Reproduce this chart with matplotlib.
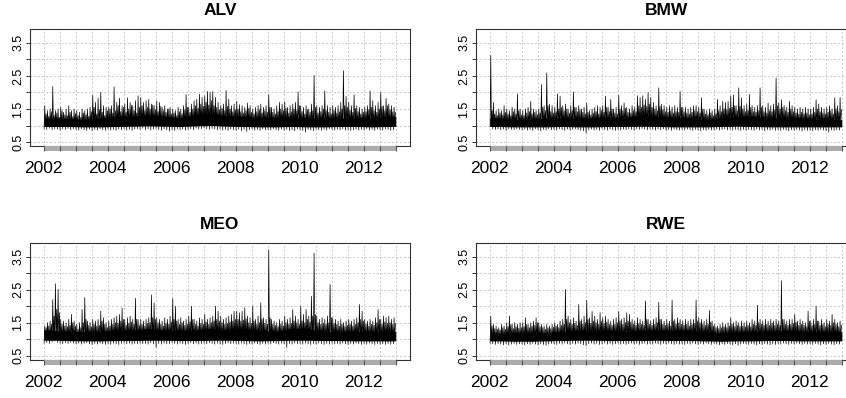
import numpy as np
import matplotlib
matplotlib.use("Agg")
import matplotlib.pyplot as plt
from matplotlib.patches import Rectangle
from matplotlib.transforms import blended_transform_factory

plt.rcParams['font.family'] = ['Liberation Sans', 'DejaVu Sans']

# values, Jan 2002 .. Dec 2012 (one row per year)
# peaks = highest value of the month, mids = a second high, lows = lowest value
alv_peaks = [1.6, 1.45, 1.5, 2.18, 1.45, 1.5, 1.55, 1.4, 1.5, 1.6, 1.45, 1.5,
             1.45, 1.4, 1.5, 1.45, 1.5, 1.55, 1.91, 1.7, 1.83, 2.0, 1.6, 1.55,
             1.55, 1.6, 2.17, 1.7, 1.83, 1.6, 1.65, 1.84, 1.7, 1.6, 1.75, 1.9,
             1.85, 1.7, 1.75, 1.79, 1.65, 1.6, 1.75, 1.7, 1.55, 1.6, 1.5, 1.55,
             1.5, 1.45, 1.55, 1.5, 1.6, 1.93, 1.55, 1.65, 1.75, 1.8, 1.95, 1.85,
             1.9, 2.03, 2.0, 2.03, 1.85, 1.7, 1.6, 1.65, 2.06, 1.8, 1.6, 1.65,
             1.73, 1.63, 1.6, 1.55, 1.68, 1.6, 1.5, 1.55, 1.6, 1.65, 1.55, 1.6,
             1.93, 1.55, 1.5, 1.6, 1.7, 1.65, 1.72, 1.55, 1.6, 1.65, 1.7, 2.02,
             1.6, 1.55, 1.6, 1.5, 1.65, 2.52, 1.6, 1.55, 1.6, 2.05, 1.6, 1.55,
             1.6, 1.55, 1.6, 1.7, 2.66, 1.88, 1.7, 1.6, 1.93, 1.6, 1.55, 1.5,
             1.55, 1.6, 2.05, 1.75, 1.6, 1.7, 2.0, 1.6, 1.82, 1.65, 1.6, 1.55]
alv_mids = [1.35, 1.28, 1.42, 1.3, 1.38, 1.25, 1.45, 1.32, 1.3, 1.4, 1.27, 1.36,
            1.3, 1.25, 1.38, 1.33, 1.28, 1.42, 1.55, 1.35, 1.48, 1.4, 1.3, 1.45,
            1.5, 1.38, 1.45, 1.6, 1.42, 1.55, 1.4, 1.5, 1.62, 1.45, 1.38, 1.55,
            1.6, 1.45, 1.55, 1.5, 1.62, 1.48, 1.42, 1.58, 1.45, 1.4, 1.5, 1.35,
            1.38, 1.3, 1.42, 1.35, 1.48, 1.55, 1.4, 1.5, 1.6, 1.52, 1.65, 1.58,
            1.7, 1.62, 1.75, 1.6, 1.55, 1.48, 1.52, 1.45, 1.58, 1.5, 1.42, 1.48,
            1.5, 1.42, 1.38, 1.45, 1.52, 1.4, 1.35, 1.42, 1.48, 1.38, 1.45, 1.4,
            1.55, 1.4, 1.35, 1.42, 1.5, 1.45, 1.52, 1.38, 1.42, 1.5, 1.45, 1.6,
            1.42, 1.35, 1.48, 1.4, 1.45, 1.55, 1.38, 1.42, 1.5, 1.45, 1.4, 1.35,
            1.45, 1.38, 1.42, 1.5, 1.6, 1.55, 1.45, 1.4, 1.52, 1.42, 1.35, 1.4,
            1.42, 1.48, 1.55, 1.45, 1.4, 1.5, 1.58, 1.45, 1.6, 1.48, 1.42, 1.4]
alv_lows = [0.9, 0.88, 0.92, 0.87, 0.9, 0.89, 0.86, 0.9, 0.88, 0.91, 0.87, 0.9,
            0.88, 0.86, 0.9, 0.87, 0.85, 0.89, 0.84, 0.88, 0.86, 0.9, 0.87, 0.85,
            0.9, 0.86, 0.88, 0.85, 0.89, 0.87, 0.9, 0.86, 0.88, 0.85, 0.89, 0.9,
            0.88, 0.92, 0.87, 0.9, 0.86, 0.89, 0.91, 0.88, 0.85, 0.9, 0.87, 0.83,
            0.88, 0.85, 0.9, 0.87, 0.89, 0.86, 0.88, 0.9, 0.87, 0.92, 0.89, 0.9,
            0.93, 0.9, 0.88, 0.91, 0.89, 0.87, 0.9, 0.86, 0.88, 0.85, 0.89, 0.87,
            0.86, 0.89, 0.84, 0.88, 0.82, 0.87, 0.9, 0.86, 0.88, 0.85, 0.89, 0.87,
            0.88, 0.86, 0.9, 0.87, 0.85, 0.89, 0.86, 0.88, 0.85, 0.87, 0.84, 0.9,
            0.87, 0.85, 0.8, 0.88, 0.86, 0.84, 0.89, 0.87, 0.85, 0.88, 0.86, 0.9,
            0.88, 0.86, 0.89, 0.87, 0.9, 0.86, 0.88, 0.85, 0.87, 0.89, 0.86, 0.88,
            0.87, 0.9, 0.86, 0.88, 0.85, 0.89, 0.87, 0.86, 0.9, 0.88, 0.85, 0.87]

bmw_peaks = [3.12, 1.7, 1.45, 1.5, 1.45, 1.6, 1.5, 1.45, 1.55, 1.5, 1.96, 1.5,
             1.45, 1.5, 1.55, 1.73, 1.5, 1.45, 1.5, 2.24, 1.6, 2.59, 1.65, 1.6,
             1.55, 1.96, 1.89, 1.6, 1.65, 1.5, 1.6, 2.02, 1.55, 1.6, 1.5, 1.55,
             1.68, 1.45, 1.5, 1.55, 1.6, 1.55, 1.6, 1.89, 1.55, 1.79, 1.5, 1.55,
             1.92, 1.6, 1.68, 1.55, 1.5, 1.6, 1.55, 1.9, 1.85, 1.9, 1.8, 2.0,
             1.85, 1.7, 1.6, 2.14, 1.65, 1.6, 1.55, 1.6, 1.55, 1.6, 1.55, 2.03,
             1.55, 1.55, 1.5, 1.55, 1.6, 1.6, 1.55, 1.84, 1.5, 1.45, 1.5, 1.45,
             1.5, 1.79, 1.6, 1.73, 1.7, 1.73, 1.89, 1.92, 1.6, 2.14, 1.84, 1.6,
             1.65, 1.94, 1.6, 1.55, 1.6, 2.14, 1.6, 1.55, 1.68, 1.6, 1.65, 2.44,
             1.68, 1.78, 1.6, 1.55, 1.73, 1.6, 1.55, 1.5, 1.55, 1.5, 1.55, 1.5,
             1.5, 1.55, 1.78, 1.65, 1.55, 1.5, 1.55, 1.6, 1.5, 1.84, 1.6, 1.85]
bmw_mids = [1.45, 1.35, 1.3, 1.38, 1.32, 1.4, 1.35, 1.3, 1.42, 1.35, 1.45, 1.32,
            1.3, 1.38, 1.42, 1.35, 1.4, 1.33, 1.38, 1.55, 1.45, 1.6, 1.42, 1.38,
            1.42, 1.5, 1.55, 1.45, 1.5, 1.38, 1.45, 1.55, 1.42, 1.48, 1.4, 1.35,
            1.4, 1.32, 1.38, 1.42, 1.35, 1.45, 1.4, 1.55, 1.42, 1.5, 1.38, 1.35,
            1.5, 1.45, 1.52, 1.4, 1.38, 1.45, 1.42, 1.6, 1.55, 1.62, 1.58, 1.65,
            1.55, 1.5, 1.45, 1.58, 1.48, 1.42, 1.4, 1.45, 1.38, 1.42, 1.4, 1.55,
            1.42, 1.38, 1.35, 1.4, 1.45, 1.42, 1.38, 1.5, 1.35, 1.32, 1.38, 1.3,
            1.35, 1.45, 1.42, 1.5, 1.48, 1.52, 1.55, 1.6, 1.45, 1.58, 1.5, 1.42,
            1.45, 1.55, 1.42, 1.4, 1.45, 1.55, 1.42, 1.38, 1.45, 1.42, 1.48, 1.6,
            1.5, 1.55, 1.45, 1.4, 1.5, 1.42, 1.38, 1.35, 1.4, 1.35, 1.38, 1.32,
            1.35, 1.4, 1.5, 1.42, 1.38, 1.35, 1.4, 1.45, 1.35, 1.5, 1.42, 1.48]
bmw_lows = [0.98, 0.9, 0.88, 0.9, 0.87, 0.89, 0.86, 0.9, 0.88, 0.87, 0.9, 0.88,
            0.87, 0.89, 0.86, 0.88, 0.85, 0.9, 0.87, 0.84, 0.88, 0.86, 0.9, 0.87,
            0.88, 0.86, 0.9, 0.87, 0.85, 0.89, 0.86, 0.88, 0.9, 0.87, 0.85, 0.84,
            0.78, 0.87, 0.89, 0.86, 0.88, 0.85, 0.9, 0.87, 0.86, 0.89, 0.87, 0.85,
            0.88, 0.86, 0.89, 0.87, 0.9, 0.88, 0.86, 0.9, 0.88, 0.91, 0.89, 0.87,
            0.9, 0.88, 0.86, 0.89, 0.87, 0.9, 0.86, 0.88, 0.85, 0.89, 0.87, 0.86,
            0.88, 0.86, 0.89, 0.87, 0.85, 0.88, 0.86, 0.84, 0.87, 0.85, 0.88, 0.86,
            0.87, 0.89, 0.86, 0.88, 0.9, 0.87, 0.89, 0.86, 0.88, 0.87, 0.85, 0.88,
            0.86, 0.88, 0.87, 0.85, 0.89, 0.86, 0.88, 0.84, 0.87, 0.86, 0.88, 0.85,
            0.87, 0.85, 0.88, 0.86, 0.84, 0.87, 0.85, 0.88, 0.86, 0.83, 0.87, 0.85,
            0.86, 0.84, 0.87, 0.85, 0.88, 0.86, 0.84, 0.8, 0.86, 0.85, 0.87, 0.86]

meo_peaks = [1.4, 1.5, 1.55, 2.2, 2.68, 2.51, 1.6, 1.55, 1.5, 1.6, 1.75, 1.55,
             1.45, 1.5, 1.9, 2.26, 1.55, 1.5, 1.6, 1.55, 1.6, 1.85, 1.65, 1.5,
             1.55, 1.6, 1.65, 1.7, 1.75, 1.94, 1.6, 1.65, 1.7, 1.6, 2.24, 1.6,
             1.6, 1.55, 1.6, 1.65, 2.34, 2.1, 1.65, 1.6, 1.55, 1.65, 1.6, 1.7,
             2.23, 2.0, 1.6, 1.65, 1.55, 1.6, 1.7, 2.0, 1.6, 1.55, 1.65, 1.6,
             1.75, 1.6, 1.65, 1.7, 2.0, 1.85, 1.7, 1.6, 1.65, 1.7, 1.75, 1.85,
             1.85, 1.8, 1.85, 1.95, 1.7, 1.65, 2.0, 1.6, 1.7, 2.1, 1.65, 1.6,
             3.7, 1.6, 1.55, 1.5, 1.6, 1.55, 1.7, 1.6, 1.65, 1.9, 1.7, 1.6,
             2.0, 1.75, 1.9, 1.7, 2.3, 3.6, 1.7, 1.6, 1.65, 1.6, 1.7, 2.66,
             1.65, 1.6, 1.55, 1.6, 1.5, 1.55, 1.6, 1.55, 1.6, 1.65, 2.05, 1.85,
             1.6, 1.55, 1.6, 1.55, 1.65, 1.9, 1.6, 1.7, 1.65, 1.7, 1.6, 1.65]
meo_mids = [1.35, 1.4, 1.45, 1.7, 1.9, 1.8, 1.45, 1.4, 1.38, 1.42, 1.5, 1.4,
            1.3, 1.35, 1.5, 1.6, 1.42, 1.38, 1.45, 1.4, 1.42, 1.55, 1.45, 1.35,
            1.4, 1.45, 1.5, 1.48, 1.55, 1.6, 1.42, 1.48, 1.52, 1.45, 1.6, 1.42,
            1.45, 1.4, 1.48, 1.5, 1.65, 1.6, 1.5, 1.45, 1.4, 1.48, 1.45, 1.52,
            1.6, 1.55, 1.45, 1.5, 1.42, 1.45, 1.52, 1.6, 1.45, 1.4, 1.48, 1.45,
            1.52, 1.45, 1.5, 1.55, 1.6, 1.55, 1.5, 1.45, 1.48, 1.52, 1.55, 1.6,
            1.6, 1.55, 1.58, 1.62, 1.5, 1.48, 1.55, 1.45, 1.5, 1.6, 1.48, 1.45,
            1.65, 1.45, 1.42, 1.38, 1.45, 1.4, 1.5, 1.45, 1.48, 1.55, 1.5, 1.45,
            1.55, 1.5, 1.6, 1.52, 1.7, 1.75, 1.5, 1.45, 1.48, 1.45, 1.5, 1.65,
            1.48, 1.45, 1.4, 1.45, 1.38, 1.42, 1.45, 1.4, 1.45, 1.5, 1.6, 1.55,
            1.45, 1.4, 1.45, 1.42, 1.5, 1.6, 1.45, 1.52, 1.48, 1.5, 1.45, 1.48]
meo_lows = [0.88, 0.9, 0.87, 0.92, 0.95, 0.9, 0.88, 0.86, 0.89, 0.87, 0.9, 0.88,
            0.86, 0.88, 0.85, 0.87, 0.89, 0.86, 0.84, 0.87, 0.85, 0.88, 0.86, 0.84,
            0.87, 0.85, 0.88, 0.86, 0.84, 0.87, 0.89, 0.86, 0.88, 0.85, 0.87, 0.86,
            0.88, 0.86, 0.87, 0.85, 0.89, 0.86, 0.75, 0.87, 0.85, 0.88, 0.86, 0.87,
            0.89, 0.87, 0.85, 0.88, 0.86, 0.84, 0.87, 0.89, 0.86, 0.88, 0.85, 0.87,
            0.88, 0.86, 0.89, 0.87, 0.85, 0.88, 0.86, 0.84, 0.87, 0.89, 0.86, 0.88,
            0.87, 0.85, 0.88, 0.86, 0.84, 0.87, 0.85, 0.88, 0.86, 0.84, 0.87, 0.85,
            0.88, 0.86, 0.89, 0.87, 0.85, 0.88, 0.86, 0.75, 0.87, 0.85, 0.88, 0.86,
            0.87, 0.85, 0.88, 0.86, 0.84, 0.87, 0.85, 0.88, 0.86, 0.84, 0.87, 0.85,
            0.88, 0.86, 0.87, 0.85, 0.88, 0.86, 0.84, 0.87, 0.85, 0.88, 0.86, 0.84,
            0.87, 0.85, 0.88, 0.86, 0.84, 0.87, 0.85, 0.86, 0.84, 0.87, 0.85, 0.86]

rwe_peaks = [1.7, 1.45, 1.4, 1.35, 1.45, 1.4, 1.5, 1.7, 1.45, 1.5, 1.45, 1.5,
             1.5, 1.65, 1.45, 1.5, 1.55, 1.65, 1.5, 1.45, 1.4, 1.45, 1.4, 1.45,
             1.5, 1.45, 1.55, 1.6, 2.51, 1.7, 1.6, 1.65, 1.55, 2.05, 1.6, 1.7,
             2.18, 1.65, 1.84, 1.7, 1.6, 1.8, 1.65, 1.7, 1.6, 1.55, 1.6, 1.65,
             1.84, 1.6, 1.65, 1.8, 1.75, 1.6, 1.55, 1.65, 1.6, 1.55, 2.16, 1.6,
             1.55, 1.6, 1.65, 2.12, 1.6, 1.55, 1.6, 1.55, 2.18, 1.6, 1.65, 1.6,
             1.55, 1.6, 1.55, 1.6, 1.6, 2.18, 1.65, 1.6, 1.55, 1.6, 1.87, 1.55,
             1.45, 1.4, 1.45, 1.5, 1.45, 1.5, 1.65, 1.5, 1.55, 1.5, 1.55, 1.5,
             1.55, 1.5, 1.6, 1.55, 2.03, 1.6, 1.55, 1.6, 1.55, 1.6, 1.55, 1.6,
             1.55, 2.77, 1.6, 1.55, 1.6, 1.6, 1.75, 1.55, 1.6, 1.55, 1.5, 1.85,
             1.55, 1.6, 2.0, 1.55, 1.6, 1.5, 1.6, 1.55, 1.75, 1.6, 1.5, 1.55]
rwe_mids = [1.4, 1.32, 1.3, 1.28, 1.35, 1.3, 1.38, 1.45, 1.32, 1.38, 1.33, 1.35,
            1.38, 1.45, 1.35, 1.4, 1.42, 1.5, 1.38, 1.35, 1.3, 1.35, 1.32, 1.36,
            1.4, 1.35, 1.42, 1.45, 1.6, 1.5, 1.45, 1.48, 1.42, 1.55, 1.45, 1.5,
            1.6, 1.48, 1.55, 1.5, 1.45, 1.55, 1.48, 1.52, 1.45, 1.42, 1.45, 1.5,
            1.55, 1.45, 1.5, 1.55, 1.52, 1.45, 1.42, 1.48, 1.45, 1.42, 1.6, 1.45,
            1.42, 1.45, 1.5, 1.6, 1.45, 1.42, 1.45, 1.4, 1.55, 1.45, 1.5, 1.45,
            1.42, 1.45, 1.4, 1.45, 1.48, 1.55, 1.5, 1.45, 1.42, 1.45, 1.52, 1.4,
            1.35, 1.32, 1.35, 1.38, 1.35, 1.4, 1.45, 1.38, 1.42, 1.38, 1.4, 1.38,
            1.42, 1.38, 1.45, 1.42, 1.5, 1.45, 1.42, 1.45, 1.42, 1.48, 1.42, 1.45,
            1.42, 1.6, 1.45, 1.42, 1.45, 1.48, 1.52, 1.42, 1.45, 1.42, 1.38, 1.55,
            1.42, 1.45, 1.55, 1.42, 1.45, 1.38, 1.45, 1.42, 1.5, 1.45, 1.38, 1.42]
rwe_lows = [0.88, 0.86, 0.84, 0.87, 0.85, 0.83, 0.86, 0.82, 0.85, 0.87, 0.84, 0.86,
            0.85, 0.83, 0.86, 0.84, 0.87, 0.85, 0.83, 0.86, 0.84, 0.82, 0.85, 0.87,
            0.86, 0.84, 0.87, 0.85, 0.88, 0.86, 0.84, 0.87, 0.85, 0.88, 0.86, 0.83,
            0.8, 0.86, 0.88, 0.85, 0.87, 0.84, 0.86, 0.88, 0.85, 0.87, 0.84, 0.86,
            0.88, 0.85, 0.87, 0.84, 0.86, 0.88, 0.85, 0.87, 0.84, 0.86, 0.88, 0.85,
            0.87, 0.85, 0.88, 0.86, 0.84, 0.87, 0.85, 0.88, 0.86, 0.84, 0.87, 0.85,
            0.86, 0.84, 0.87, 0.85, 0.88, 0.86, 0.84, 0.87, 0.85, 0.88, 0.86, 0.84,
            0.87, 0.85, 0.83, 0.86, 0.84, 0.87, 0.85, 0.83, 0.86, 0.82, 0.85, 0.87,
            0.86, 0.84, 0.87, 0.85, 0.83, 0.86, 0.84, 0.87, 0.85, 0.83, 0.86, 0.84,
            0.87, 0.85, 0.88, 0.86, 0.84, 0.87, 0.85, 0.88, 0.86, 0.84, 0.87, 0.85,
            0.86, 0.84, 0.87, 0.85, 0.83, 0.86, 0.84, 0.87, 0.85, 0.83, 0.86, 0.85]

# dense core of each series, one value per half year (2002H1 .. 2012H2)
alv_core_top = [1.23, 1.21, 1.18, 1.23, 1.28, 1.28, 1.33, 1.28, 1.23, 1.33, 1.38,
                1.28, 1.28, 1.23, 1.23, 1.23, 1.23, 1.23, 1.23, 1.23, 1.23, 1.28]
alv_core_bot = [0.97, 0.97, 0.96, 0.96, 0.97, 0.98, 0.99, 0.98, 0.97, 0.99, 1.0,
                0.98, 0.97, 0.96, 0.96, 0.97, 0.96, 0.96, 0.97, 0.97, 0.96, 0.97]
bmw_core_top = [1.23, 1.18, 1.18, 1.23, 1.23, 1.23, 1.23, 1.23, 1.23, 1.33, 1.28,
                1.23, 1.23, 1.18, 1.23, 1.28, 1.28, 1.23, 1.23, 1.23, 1.18, 1.18]
bmw_core_bot = [0.97, 0.96, 0.96, 0.96, 0.97, 0.96, 0.96, 0.97, 0.97, 0.98, 0.97,
                0.96, 0.96, 0.96, 0.97, 0.98, 0.97, 0.96, 0.96, 0.96, 0.96, 0.96]
meo_core_top = [1.28, 1.23, 1.23, 1.23, 1.28, 1.28, 1.33, 1.28, 1.28, 1.28, 1.33,
                1.28, 1.33, 1.28, 1.23, 1.33, 1.33, 1.23, 1.23, 1.23, 1.23, 1.23]
meo_core_bot = [0.97, 0.96, 0.95, 0.95, 0.96, 0.96, 0.97, 0.97, 0.96, 0.96, 0.97,
                0.97, 0.96, 0.95, 0.96, 0.97, 0.97, 0.96, 0.96, 0.95, 0.95, 0.95]
rwe_core_top = [1.18, 1.18, 1.18, 1.18, 1.23, 1.28, 1.28, 1.28, 1.23, 1.28, 1.28,
                1.28, 1.28, 1.23, 1.18, 1.23, 1.23, 1.23, 1.28, 1.23, 1.23, 1.23]
rwe_core_bot = [0.95, 0.94, 0.94, 0.95, 0.96, 0.97, 0.97, 0.96, 0.96, 0.96, 0.97,
                0.96, 0.96, 0.95, 0.94, 0.95, 0.95, 0.96, 0.96, 0.95, 0.95, 0.95]

names = ["ALV", "BMW", "MEO", "RWE"]
year_ticks = [2002, 2004, 2006, 2008, 2010, 2012]
y_ticks = [0.5, 1.0, 1.5, 2.0, 2.5, 3.0, 3.5]

series = {
    "ALV": (alv_peaks, alv_mids, alv_lows, alv_core_top, alv_core_bot),
    "BMW": (bmw_peaks, bmw_mids, bmw_lows, bmw_core_top, bmw_core_bot),
    "MEO": (meo_peaks, meo_mids, meo_lows, meo_core_top, meo_core_bot),
    "RWE": (rwe_peaks, rwe_mids, rwe_lows, rwe_core_top, rwe_core_bot),
}

W, H = 846, 398
boxes = {"ALV": (30, 29), "BMW": (476, 29), "MEO": (30, 242.7), "RWE": (476, 242.7)}
bw, bh = 380, 117

fig = plt.figure(figsize=(W / 100, H / 100), dpi=100)

months = np.arange(132)
halfyears = 2002 + 0.5 * np.arange(23)

for name in names:
    peaks, mids, lows, ctop, cbot = series[name]
    left, top = boxes[name]
    ax = fig.add_axes([left / W, 1 - (top + bh) / H, bw / W, bh / H])

    # dense core band
    cx = np.r_[2002, 2002.25 + 0.5 * np.arange(22), 2013]
    ax.fill_between(cx, np.r_[cbot[0], cbot, cbot[-1]], np.r_[ctop[0], ctop, ctop[-1]],
                    color="black", lw=0, zorder=3)

    # zig-zag: month low, month high, core bottom, second high
    x = np.empty(528)
    y = np.empty(528)
    x[0::4] = 2002 + (months + 0.125) / 12
    x[1::4] = 2002 + (months + 0.375) / 12
    x[2::4] = 2002 + (months + 0.625) / 12
    x[3::4] = 2002 + (months + 0.875) / 12
    y[0::4] = lows
    y[1::4] = peaks
    y[2::4] = np.repeat(cbot, 6)
    y[3::4] = mids
    ax.plot(x, y, color="black", lw=0.5, zorder=4)

    ax.set_xlim(2001.57, 2013.445)
    ax.set_ylim(0.38, 3.92)

    ax.set_yticks(y_ticks)
    ax.set_yticklabels([f"{v:g}" if v % 1 else "" for v in y_ticks])
    ax.set_xticks(year_ticks)
    ax.set_xticklabels([str(v) for v in year_ticks])
    ax.set_xticks(halfyears, minor=True)

    ax.tick_params(axis="x", which="both", length=0, labelsize=12.5, pad=11)
    ax.tick_params(axis="y", length=3, width=0.7, color="#333333", labelsize=9, pad=1)
    for lab in ax.get_yticklabels():
        lab.set_rotation(90)
        lab.set_va("center")

    ax.grid(True, which="both", axis="x", color="#c8c8c8", lw=0.7, ls=(0, (2, 2)))
    ax.grid(True, which="major", axis="y", color="#c8c8c8", lw=0.7, ls=(0, (2, 2)))
    ax.set_axisbelow(True)

    for sp in ax.spines.values():
        sp.set_color("#333333")
        sp.set_linewidth(0.8)

    # grey time bar under the panel
    tr = blended_transform_factory(ax.transData, ax.transAxes)
    ax.add_patch(Rectangle((2002, -0.043), 11, 0.043, transform=tr, color="#aaaaaa",
                           lw=0, clip_on=False, zorder=5))
    ax.vlines(halfyears, -0.043, 0, transform=tr, colors="#555555", lw=0.8,
              clip_on=False, zorder=6)

    ax.set_title(name, fontweight="bold", fontsize=12.5, pad=10)

fig.savefig("out.png", dpi=100)
